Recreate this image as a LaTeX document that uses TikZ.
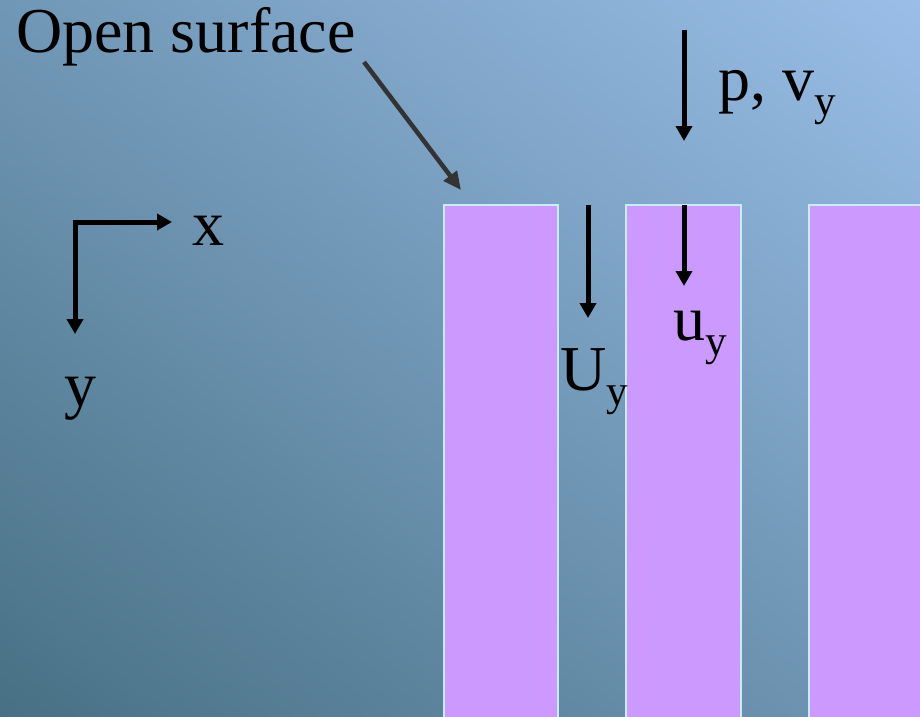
\documentclass[tikz,border=0pt]{standalone}
\usepackage{fontspec}
\setmainfont{Liberation Serif}
\usetikzlibrary{arrows.meta}
\definecolor{bgdark}{RGB}{72,112,132}
\definecolor{bglight}{RGB}{154,190,232}
\definecolor{barfill}{RGB}{204,153,255}
\definecolor{baredge}{RGB}{200,236,250}
\definecolor{grayarrow}{RGB}{51,51,51}
\pgfdeclareverticalshading{bgshade}{100bp}{color(0bp)=(bgdark); color(100bp)=(bglight)}
\tikzset{
  bigtext/.style={font=\fontsize{64}{64}\selectfont, inner sep=0pt, anchor=base west, text=black},
  flowarrow/.style={draw=black, line width=5pt, -{Triangle[length=15pt,width=16pt]}},
  leadarrow/.style={draw=grayarrow, line width=4.5pt, -{Triangle[length=18pt,width=16pt]}},
  barbox/.style={fill=barfill, draw=baredge, line width=2pt},
}
\newcommand{\subsy}{\raisebox{-15pt}{\fontsize{43}{43}\selectfont y}}
\begin{document}
\begin{tikzpicture}[x=1pt,y=-1pt]
  \useasboundingbox (0,0) rectangle (920,716);
  \begin{scope}
    \clip (0,0) rectangle (920,716);
    \begin{scope}[shift={(460,358)}, rotate=-38, xscale=13, yscale=11.28]
      \node[transform shape, inner sep=0pt] (bg) at (0,0) {\pgfuseshading{bgshade}};
    \end{scope}
  \end{scope}
  % bars
  \path[barbox] (444,205) rectangle (558,720);
  \path[barbox] (626,205) rectangle (741,720);
  \path[barbox] (809,205) rectangle (925,720);
  % texts
  \node[bigtext] (open) at (16,52) {Open surface};
  \node[bigtext] (pv) at (718,100) {p, v\subsy};
  \node[bigtext] (U) at (560,390) {U\subsy};
  \node[bigtext] (u) at (673,340) {u\subsy};
  \node[bigtext] (xl) at (192,245) {x};
  \node[bigtext] (yl) at (64,406) {y};
  % coordinates
  \coordinate (os1) at (364,62);
  \coordinate (os2) at (461,190);
  \coordinate (p1) at (684,30);
  \coordinate (p2) at (684,141);
  \coordinate (U1) at (588,205);
  \coordinate (U2) at (588,318);
  \coordinate (u1) at (684,205);
  \coordinate (u2) at (684,286);
  \coordinate (o) at (75,222);
  \coordinate (ax) at (172,222);
  \coordinate (ay) at (75,334);
  % arrows
  \draw[leadarrow] (os1) -- (os2);
  \draw[flowarrow] (p1) -- (p2);
  \draw[flowarrow] (U1) -- (U2);
  \draw[flowarrow] (u1) -- (u2);
  \draw[flowarrow] ([xshift=-2.5pt]o) -- (ax);
  \draw[flowarrow] ([yshift=-2.5pt]o) -- (ay);
\end{tikzpicture}
\end{document}
